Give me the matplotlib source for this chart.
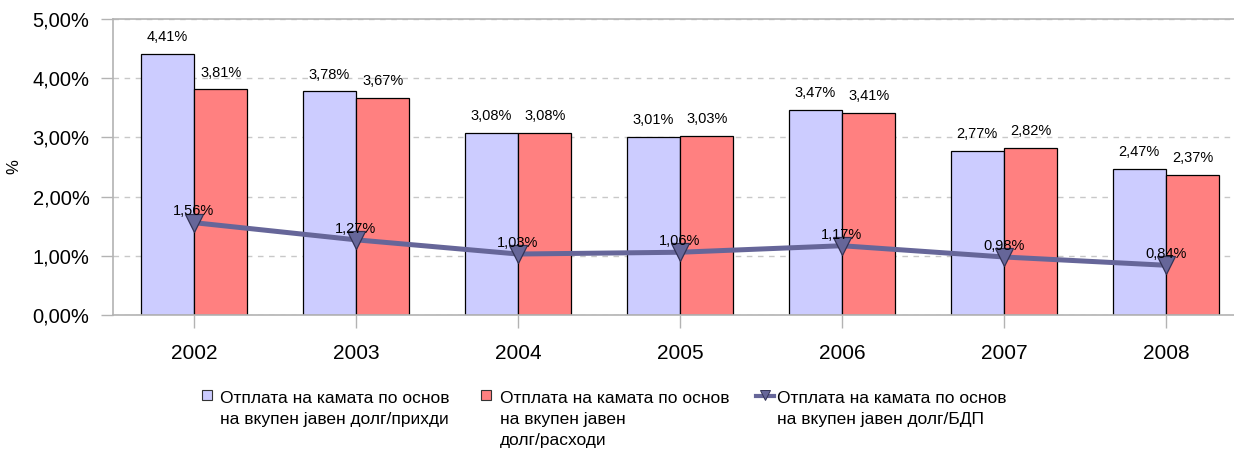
import matplotlib.pyplot as plt
from matplotlib.patches import Rectangle
from matplotlib.lines import Line2D
import numpy as np

godini = ["2002", "2003", "2004", "2005", "2006", "2007", "2008"]
prihodi = [4.41, 3.78, 3.08, 3.01, 3.47, 2.77, 2.47]
rashodi = [3.81, 3.67, 3.08, 3.03, 3.41, 2.82, 2.37]
bdp = [1.56, 1.27, 1.03, 1.06, 1.17, 0.98, 0.84]
legenda = [
    "Отплата на камата по основ\nна вкупен јавен долг/прихди",
    "Отплата на камата по основ\nна вкупен јавен\nдолг/расходи",
    "Отплата на камата по основ\nна вкупен јавен долг/БДП",
]

plt.rcParams['font.family'] = ['Liberation Sans', 'DejaVu Sans']

W, H = 1234, 454
fig = plt.figure(figsize=(W / 100, H / 100), dpi=100)
ax = fig.add_axes([113 / W, 1 - 315 / H, 1134 / W, 296 / H])

x = np.arange(len(godini))
sirina = 0.33
sivo = "#b3b3b3"

ax.bar(x - sirina / 2, prihodi, sirina, color="#ccccff", edgecolor="black", linewidth=0.9, zorder=2)
ax.bar(x + sirina / 2, rashodi, sirina, color="#ff8080", edgecolor="black", linewidth=0.9, zorder=2)
ax.plot(x, bdp, color="#666699", linewidth=3.6, zorder=3)
ax.plot(x, bdp, linestyle="none", marker="v", markersize=13, markerfacecolor="#666699",
        markeredgecolor="#333355", markeredgewidth=0.9, zorder=4)


def fmt(v):
    return f"{v:.2f}%".replace(".", ",")


for i in range(len(godini)):
    ax.annotate(fmt(prihodi[i]), (x[i] - sirina / 2, prihodi[i]), xytext=(0, 7),
                textcoords="offset points", ha="center", va="bottom", fontsize=10.5)
    ax.annotate(fmt(rashodi[i]), (x[i] + sirina / 2, rashodi[i]), xytext=(0, 7),
                textcoords="offset points", ha="center", va="bottom", fontsize=10.5)
    ax.annotate(fmt(bdp[i]), (x[i], bdp[i]), xytext=(0, 3),
                textcoords="offset points", ha="center", va="bottom", fontsize=10.5, zorder=5)

ax.set_xlim(-0.5, 6.5)
ax.set_ylim(0, 5)
ax.set_yticks([0, 1, 2, 3, 4, 5])
ax.set_yticklabels([fmt(v) for v in [0, 1, 2, 3, 4, 5]], fontsize=14.5)
ax.set_xticks(x)
ax.set_xticklabels(godini, fontsize=15)
ax.tick_params(axis="both", color=sivo, length=9, width=1)
ax.tick_params(axis="y", pad=8)
ax.tick_params(axis="x", pad=12)
ax.set_ylabel("%", fontsize=12, labelpad=8)

ax.yaxis.grid(True, linestyle=(0, (4, 4)), color="#c8c8c8", linewidth=1)
ax.set_axisbelow(True)
for s in ["left", "bottom", "top"]:
    ax.spines[s].set_color(sivo)
    ax.spines[s].set_linewidth(1.2)
ax.spines["right"].set_visible(False)

# legenda
def fy(py):
    return 1 - py / H

fig.patches.append(Rectangle((202 / W, fy(400)), 10 / W, 10 / H, transform=fig.transFigure,
                             facecolor="#ccccff", edgecolor="#333333", linewidth=0.8))
fig.patches.append(Rectangle((481 / W, fy(400)), 10 / W, 10 / H, transform=fig.transFigure,
                             facecolor="#ff8080", edgecolor="#333333", linewidth=0.8))
fig.lines.append(Line2D([756 / W, 774 / W], [fy(396), fy(396)], transform=fig.transFigure,
                        color="#666699", linewidth=3))
fig.lines.append(Line2D([765 / W], [fy(395)], transform=fig.transFigure, marker="v",
                        markersize=7, markerfacecolor="#666699", markeredgecolor="#333355",
                        markeredgewidth=0.7))

for tx, lab in zip([220, 500, 777], legenda):
    fig.text(tx / W, fy(391), lab, fontsize=12.5, va="top", ha="left", linespacing=1.5)

fig.savefig("out.png", dpi=100)
